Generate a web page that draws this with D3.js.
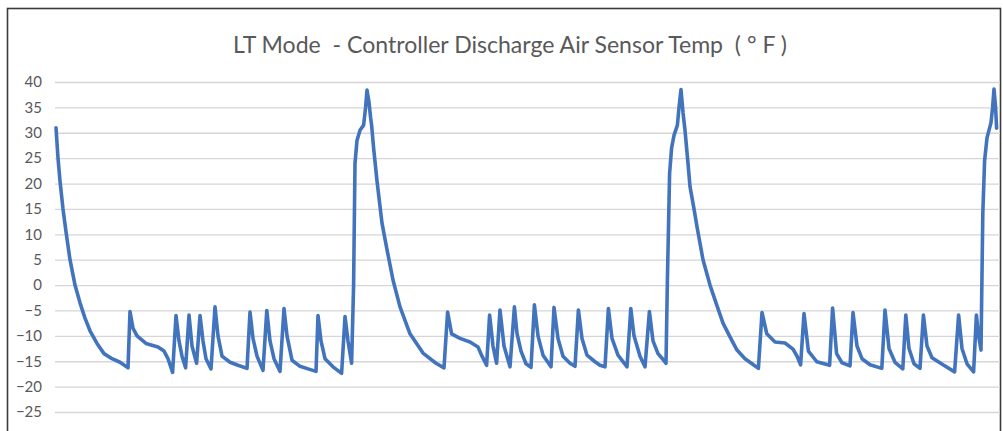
<!DOCTYPE html>
<html>
<head>
<meta charset="utf-8">
<script src="https://cdn.jsdelivr.net/npm/d3@7/dist/d3.min.js"></script>
<style>
  html, body { margin: 0; padding: 0; background: #ffffff; }
  svg { display: block; }
</style>
</head>
<body>
<svg id="chart" width="1003" height="431"></svg>
<script>
// Elapsed time (minutes) of each logged sample
const minutes = [
  0, 1, 2, 3.5, 5, 7, 9.5, 12, 14.5, 17, 20.5, 24, 28, 32, 36,
  37, 38.5, 40.5, 45, 51, 54, 56, 58.3,
  60, 61.5, 63, 64.8, 66.5, 68, 70.3, 72, 73.5, 75, 77.5,
  79.5, 81, 83, 87, 91, 95.5, 97, 98.5, 100.5, 103.5,
  105.4, 107, 109, 112, 114, 115.5, 118, 122, 126, 130,
  131, 132.5, 134.5, 138.5, 142.8, 144.5, 146, 147.8,
  148.8, 149.5, 150.5, 152, 153.8, 154.8, 155.5, 156.5, 157.3, 157.8, 158.8,
  160.5, 163, 165.5, 168.5, 172, 177, 183.5, 190, 194,
  195.8, 197.8, 202, 207, 211, 213, 215.3,
  216.8, 218.5, 220.3, 222, 224, 227, 229.2, 230.5, 232.5, 235, 237.5,
  239.2, 241, 243.5, 247.5, 249, 251, 253.5, 257, 259.5,
  261.2, 263, 265.5, 269.5, 272, 274.5, 276.2, 278, 281, 285.5,
  287.4, 289, 292, 294.5, 296.7, 298.5, 301, 303, 305,
  305.7, 306.8, 307.8, 309, 310.7, 311.5, 312.5, 313.5, 314.5, 316, 317,
  319, 320.5, 323.5, 327, 330, 333.5, 337, 340.5, 344.5, 348, 351.2,
  353, 355.4, 359.5, 364.5, 368.5, 370.5, 372.3,
  374, 376.2, 380.4, 386.8, 388.3, 390.3, 393, 397,
  398.5, 400.5, 403, 407, 412.9, 414.5, 416.5, 419.5, 423.4,
  424.9, 426.5, 429, 432, 433.7, 435.5, 438, 443.5, 449.3,
  451.3, 453, 455.5, 458.8, 460.2, 461.3, 462.5,
  463.4, 464.3, 465.5, 467.5, 468.3, 469, 469.8, 470.3
];

// Discharge air sensor temperature (°F) at each sample
const tempF = [
  31, 25, 20.5, 15, 10.5, 5, 0, -3.5, -6.5, -9, -11.5, -13.5, -14.5, -15.2, -16.3,
  -5.2, -8.5, -10, -11.5, -12.2, -13, -14.5, -17.2,
  -6, -11, -14, -16.3, -5.9, -12, -15.4, -6, -11, -14.5, -16.5,
  -4.3, -10, -14, -15.2, -15.8, -16.4, -5.3, -10.5, -14, -16.8,
  -5, -11, -14.5, -17, -4.6, -10, -14.8, -16, -16.5, -17,
  -6, -11, -14.5, -16.1, -17.4, -6.2, -11, -15.4,
  0, 24, 28.5, 30.5, 31.5, 35, 38.4, 36, 33, 31.5, 27,
  20.5, 12.2, 7, 1, -4.3, -9.6, -13.4, -15.4, -16.3,
  -5.3, -9.6, -10.5, -11.2, -12.2, -14, -15.8,
  -5.9, -12, -15.4, -4.9, -12, -16.1, -4.3, -9.5, -13, -15.5, -16.2,
  -3.9, -10, -13.8, -16.1, -4.4, -10.5, -14, -15.4, -16,
  -4.9, -10.5, -13.8, -15.1, -15.8, -16.1, -4.6, -10.5, -13.8, -16.1,
  -4.6, -10, -14, -16.1, -5.2, -11, -13.5, -14.4, -15.4,
  1, 22, 27, 29.5, 31.5, 35, 38.5, 34, 30.5, 24, 19.4,
  15, 11.5, 5, 0, -3.5, -7.5, -10.2, -12.8, -14.5, -15.5, -16.4,
  -5.4, -9.6, -11.2, -11.4, -12.6, -14, -15.7,
  -5.6, -13, -15.1, -15.8, -4.5, -13.5, -15.3, -15.9,
  -5.4, -12, -14.5, -15.7, -16.4, -4.9, -12.5, -15.2, -16.5,
  -5.9, -12.5, -15.5, -16.4, -5.9, -12, -14.3, -15.7, -17.1,
  -5.9, -12.5, -15.5, -17.1, -5.9, -10, -12.8,
  14, 24.5, 29, 32, 35, 38.6, 35, 30.9
];

// Value-axis tick labels
const yTicks = [-25, -20, -15, -10, -5, 0, 5, 10, 15, 20, 25, 30, 35, 40];

const titleText = "LT Mode  - Controller Discharge Air Sensor Temp  ( \u00B0 F )";

const svg = d3.select("#chart");

const plot = { left: 56, right: 997, top: 82, bottom: 437.4 };

const x = d3.scaleLinear()
  .domain([0, 470.5])
  .range([plot.left, plot.right]);

const y = d3.scaleLinear()
  .domain([-30, 40])
  .range([plot.bottom, plot.top]);

// chart frame
svg.append("rect")
  .attr("x", 7.5)
  .attr("y", 8.5)
  .attr("width", 993)
  .attr("height", 440)
  .attr("fill", "#ffffff")
  .attr("stroke", "#3a3a3a")
  .attr("stroke-width", 1.6);

// horizontal gridlines + labels via a left axis
const yAxis = d3.axisLeft(y)
  .tickValues(yTicks)
  .tickSize(-(plot.right + 3 - 55))
  .tickPadding(13)
  .tickFormat(d3.format("d"));

const gy = svg.append("g")
  .attr("transform", "translate(55,0)")
  .call(yAxis);

gy.select(".domain").remove();
gy.selectAll(".tick line")
  .attr("stroke", "#d6d6d6")
  .attr("stroke-width", 1.3);
gy.selectAll(".tick text")
  .attr("fill", "#595959")
  .style("font-family", "Lato, 'Open Sans', sans-serif")
  .style("font-size", "15px");

// temperature trace
const series = minutes.map((m, i) => ({ m, v: tempF[i] }));

const line = d3.line()
  .x(d => x(d.m))
  .y(d => y(d.v))
  .curve(d3.curveLinear);

svg.append("path")
  .datum(series)
  .attr("d", line)
  .attr("fill", "none")
  .attr("stroke", "#4274bd")
  .attr("stroke-width", 3.6)
  .attr("stroke-linejoin", "round")
  .attr("stroke-linecap", "round");

// chart title, sized to span its slot
const title = svg.append("text")
  .attr("x", 510)
  .attr("y", 53)
  .attr("text-anchor", "middle")
  .attr("fill", "#595959")
  .style("font-family", "Lato, 'Open Sans', sans-serif")
  .style("font-size", "22px")
  .style("white-space", "pre")
  .attr("xml:space", "preserve")
  .text(titleText);

const w = title.node().getComputedTextLength();
if (w > 0) {
  title.style("font-size", (22 * 554 / w).toFixed(2) + "px");
}
</script>
</body>
</html>
